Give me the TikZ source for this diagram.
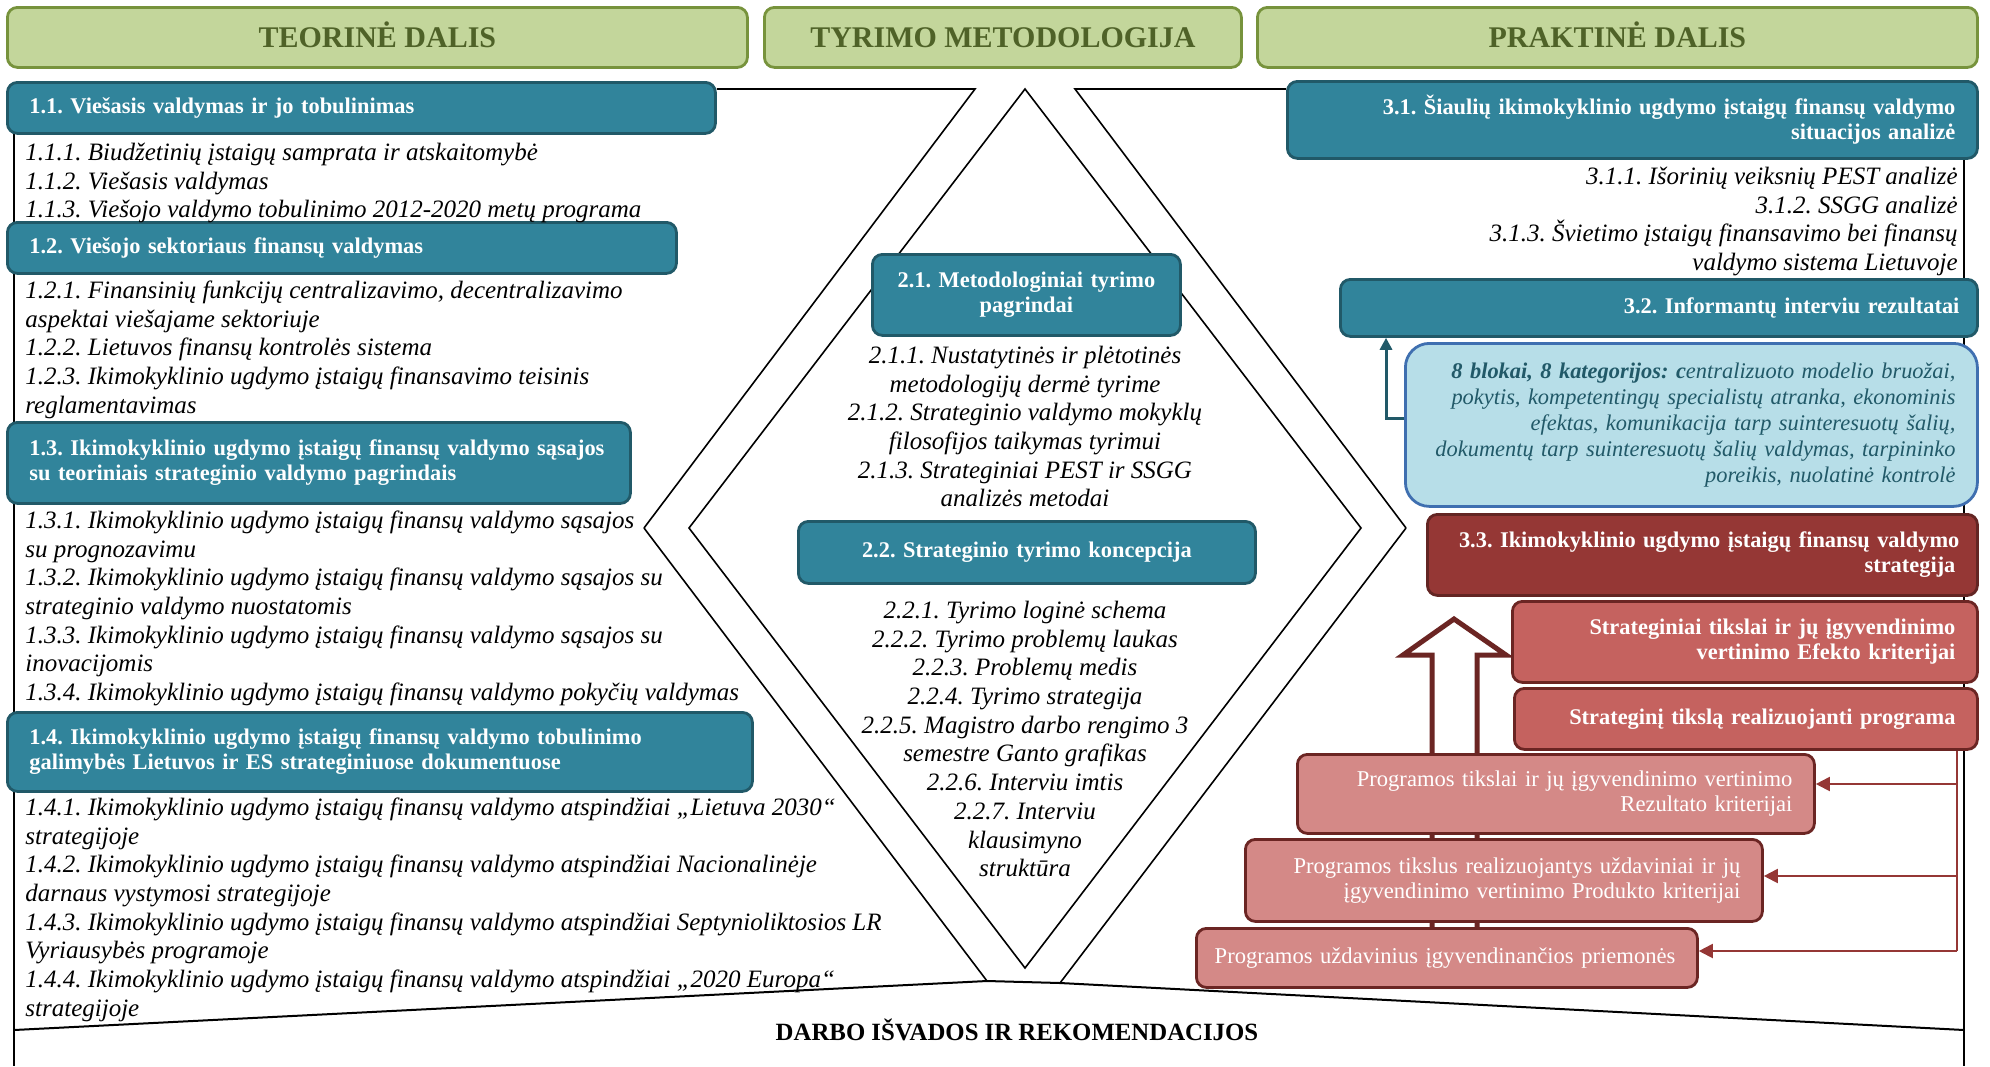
\documentclass[tikz,border=0pt]{standalone}
\usepackage{fontspec}
\setmainfont{Liberation Serif}
\usetikzlibrary{arrows.meta}
\frenchspacing
\definecolor{hdrF}{HTML}{C3D69B}
\definecolor{hdrB}{HTML}{77933C}
\definecolor{hdrT}{HTML}{4F6228}
\definecolor{tealF}{HTML}{31849B}
\definecolor{tealB}{HTML}{215968}
\definecolor{lbF}{HTML}{B7DEE8}
\definecolor{lbB}{HTML}{3F6FB0}
\definecolor{lbT}{HTML}{215968}
\definecolor{rdF}{HTML}{953735}
\definecolor{rdB}{HTML}{632523}
\definecolor{smF}{HTML}{C5625F}
\definecolor{smB}{HTML}{6B2523}
\definecolor{pkF}{HTML}{D48987}
\definecolor{conR}{HTML}{953735}
\newcommand{\fstrut}{\rule{0pt}{11pt}}
\begin{document}
\begin{tikzpicture}[x=0.5pt,y=-0.5pt,
  bx/.style={anchor=north west, inner ysep=0pt, line width=1.4pt, rounded corners=5pt},
  hdr/.style={bx, draw=hdrB, fill=hdrF, text=hdrT, font=\fontsize{15}{18}\selectfont\bfseries, align=center, text height=10.4pt, text depth=0pt},
  tbox/.style={bx, draw=tealB, fill=tealF, text=white, inner xsep=11pt, font=\fontsize{11.2}{12.5}\selectfont\bfseries},
  rbox/.style={bx, draw=rdB, fill=rdF, text=white, inner xsep=11pt, align=right, font=\fontsize{11.2}{12.5}\selectfont\bfseries},
  sbox/.style={bx, draw=smB, fill=smF, text=white, inner xsep=11pt, align=right, font=\fontsize{11.2}{12.5}\selectfont\bfseries},
  pbox/.style={bx, draw=smB, fill=pkF, text=white, inner xsep=11pt, align=right, font=\fontsize{11.3}{12.5}\selectfont},
  lbox/.style={bx, draw=lbB, fill=lbF, text=lbT, rounded corners=12pt, inner xsep=11pt, align=right, font=\fontsize{11.2}{13}\selectfont\itshape},
  itxt/.style={inner sep=0pt, font=\fontsize{12.5}{14.35}\selectfont\itshape},
  ln/.style={line width=0.8pt, black},
  conn/.style={line width=1pt, conR, -{Triangle[length=7pt,width=7pt]}}
]
\useasboundingbox (0,0) rectangle (1990,1066);

% ---------- outline lines ----------
\coordinate (tl) at (975,89);
\coordinate (lv) at (644,528);
\coordinate (lb1) at (987,981);
\coordinate (tr) at (1075,89);
\coordinate (rv) at (1406,528);
\coordinate (lb2) at (1060,983);
\coordinate (dt) at (1025,89);
\coordinate (dl) at (689,528);
\coordinate (db) at (1025,968);
\coordinate (dr) at (1361,528);
\coordinate (bl) at (14,1030);
\coordinate (br) at (1964,1030);

\draw[ln] (14,110) -- (14,1066);
\draw[ln] (1964,120) -- (1964,1066);
\draw[ln] (dt) -- (dl) -- (db) -- (dr) -- cycle;
\draw[ln] (lv) -- (lb1);
\draw[ln] (rv) -- (lb2);
\draw[line width=1pt] (bl) -- (lb1) -- (lb2) -- (br);

% ---------- header boxes ----------
\node[hdr, minimum width=370pt, minimum height=30pt] (h1) at (6,6) {TEORINĖ DALIS};
\node[hdr, minimum width=238.5pt, minimum height=30pt] (h2) at (763,6) {TYRIMO METODOLOGIJA};
\node[hdr, minimum width=360pt, minimum height=30pt] (h3) at (1256,6) {PRAKTINĖ DALIS};

% ---------- hollow arrow ----------
\draw[line width=2.5pt, smB, fill=white, line join=miter]
  (1432,940) -- (1432,655) -- (1403,655) -- (1454,619) -- (1506,655) -- (1477,655) -- (1477,940);

% ---------- left boxes ----------
\node[tbox, text width=332pt, align=left, minimum height=25.5pt] (b11) at (6,81) {1.1. Viešasis valdymas ir jo tobulinimas};
\node[tbox, text width=312.5pt, align=left, minimum height=25.5pt] (b12) at (6,221) {1.2. Viešojo sektoriaus finansų valdymas};
\node[tbox, text width=293.5pt, inner xsep=9pt, align=left, minimum height=40.5pt] (b13) at (6,421) {\hspace*{2pt}1.3. Ikimokyklinio ugdymo įstaigų finansų valdymo sąsajos\\ \hspace*{2pt}su teoriniais strateginio valdymo pagrindais};
\node[tbox, text width=350.5pt, align=left, minimum height=39.5pt] (b14) at (6,711) {1.4. Ikimokyklinio ugdymo įstaigų finansų valdymo tobulinimo\\ galimybės Lietuvos ir ES strateginiuose dokumentuose};

% top connecting lines
\draw[ln] (b11.east |- tl) -- (tl) -- (lv);

% ---------- center boxes ----------
\node[tbox, text width=132pt, align=center, minimum height=40.5pt] (b21) at (871,253) {2.1. Metodologiniai tyrimo\\ pagrindai};
\node[tbox, text width=206.5pt, align=center, minimum height=31pt] (b22) at (797,520) {2.2. Strateginio tyrimo koncepcija};

% ---------- right boxes ----------
\node[tbox, text width=323pt, align=right, minimum height=38.5pt] (b31) at (1286,80) {3.1. Šiaulių ikimokyklinio ugdymo įstaigų finansų valdymo\\ situacijos analizė};
\draw[ln] (rv) -- (tr) -- (b31.west |- tr);
\node[tbox, text width=300.5pt, inner xsep=9pt, align=right, minimum height=28.5pt] (b32) at (1339,278) {3.2. Informantų interviu rezultatai};
\node[lbox, text width=264pt, minimum height=81.5pt] (lb) at (1404,342) {\textbf{8 blokai, 8 kategorijos: c}entralizuoto modelio bruožai,\\ pokytis, kompetentingų specialistų atranka, ekonominis\\ efektas, komunikacija tarp suinteresuotų šalių,\\ dokumentų tarp suinteresuotų šalių valdymas, tarpininko\\ poreikis, nuolatinė kontrolė};
\node[rbox, text width=257pt, inner xsep=9pt, minimum height=40.5pt] (b33) at (1426,513) {3.3. Ikimokyklinio ugdymo įstaigų finansų valdymo\hspace*{2pt}\\ strategija\hspace*{2pt}};
\node[sbox, text width=210.5pt, minimum height=40.5pt] (s1) at (1511,600) {Strateginiai tikslai ir jų įgyvendinimo\\ vertinimo Efekto kriterijai};
\node[sbox, text width=209.5pt, minimum height=30.5pt] (s2) at (1513,687) {Strateginį tikslą realizuojanti programa};
\node[pbox, text width=236.5pt, minimum height=39.5pt] (p1) at (1296,753) {Programos tikslai ir jų įgyvendinimo vertinimo\\ Rezultato kriterijai};
\node[pbox, text width=236.5pt, minimum height=41pt] (p2) at (1244,838) {Programos tikslus realizuojantys uždaviniai ir jų\\ įgyvendinimo vertinimo Produkto kriterijai};
\node[pbox, text width=232.5pt, inner xsep=9pt, minimum height=29.5pt] (p3) at (1195,927) {Programos uždavinius įgyvendinančios priemonės\hspace*{2pt}};

% ---------- text blocks ----------
\node[itxt, anchor=north west, align=left] (t11) at (25,138) {\fstrut 1.1.1. Biudžetinių įstaigų samprata ir atskaitomybė\\ 1.1.2. Viešasis valdymas\\ 1.1.3. Viešojo valdymo tobulinimo 2012-2020 metų programa};
\node[itxt, anchor=north west, align=left] (t12) at (25,276) {\fstrut 1.2.1. Finansinių funkcijų centralizavimo, decentralizavimo\\ aspektai viešajame sektoriuje\\ 1.2.2. Lietuvos finansų kontrolės sistema\\ 1.2.3. Ikimokyklinio ugdymo įstaigų finansavimo teisinis\\ reglamentavimas};
\node[itxt, anchor=north west, align=left] (t13) at (25,506) {\fstrut 1.3.1. Ikimokyklinio ugdymo įstaigų finansų valdymo sąsajos\\ su prognozavimu\\ 1.3.2. Ikimokyklinio ugdymo įstaigų finansų valdymo sąsajos su\\ strateginio valdymo nuostatomis\\ 1.3.3. Ikimokyklinio ugdymo įstaigų finansų valdymo sąsajos su\\ inovacijomis\\ 1.3.4. Ikimokyklinio ugdymo įstaigų finansų valdymo pokyčių valdymas};
\node[itxt, anchor=north west, align=left] (t14) at (25,793) {\fstrut 1.4.1. Ikimokyklinio ugdymo įstaigų finansų valdymo atspindžiai „Lietuva 2030“\\ strategijoje\\ 1.4.2. Ikimokyklinio ugdymo įstaigų finansų valdymo atspindžiai Nacionalinėje\\ darnaus vystymosi strategijoje\\ 1.4.3. Ikimokyklinio ugdymo įstaigų finansų valdymo atspindžiai Septynioliktosios LR\\ Vyriausybės programoje\\ 1.4.4. Ikimokyklinio ugdymo įstaigų finansų valdymo atspindžiai „2020 Europa“\\ strategijoje};

\node[itxt, anchor=north, align=center] (t21) at (1025,341) {\fstrut 2.1.1. Nustatytinės ir plėtotinės\\ metodologijų dermė tyrime\\ 2.1.2. Strateginio valdymo mokyklų\\ filosofijos taikymas tyrimui\\ 2.1.3. Strateginiai PEST ir SSGG\\ analizės metodai};
\node[itxt, anchor=north, align=center] (t22) at (1025,596) {\fstrut 2.2.1. Tyrimo loginė schema\\ 2.2.2. Tyrimo problemų laukas\\ 2.2.3. Problemų medis\\ 2.2.4. Tyrimo strategija\\ 2.2.5. Magistro darbo rengimo 3\\ semestre Ganto grafikas\\ 2.2.6. Interviu imtis\\ 2.2.7. Interviu\\ klausimyno\\ struktūra};

\node[itxt, anchor=north east, align=right] (t31) at (1958,162) {\fstrut 3.1.1. Išorinių veiksnių PEST analizė\\ 3.1.2. SSGG analizė\\ 3.1.3. Švietimo įstaigų finansavimo bei finansų\\ valdymo sistema Lietuvoje};

\node[font=\fontsize{12.4}{14}\selectfont\bfseries] (darbo) at (1017,1030) {DARBO IŠVADOS IR REKOMENDACIJOS};

% ---------- connectors ----------
\coordinate (ta) at (1386,418);
\draw[tealB, line width=1.5pt, -{Triangle[length=6pt,width=6pt]}] (lb.west |- ta) -- (ta) -- (ta |- b32.south);

\coordinate (r1) at (1957,784);
\coordinate (r2) at (1957,876);
\coordinate (r3) at (1957,951);
\draw[line width=1pt, conR] (r1 |- s2.south) -- (r3);
\draw[conn] (r1) -- (p1.east |- r1);
\draw[conn] (r2) -- (p2.east |- r2);
\draw[conn] (r3) -- (p3.east |- r3);
\end{tikzpicture}
\end{document}
